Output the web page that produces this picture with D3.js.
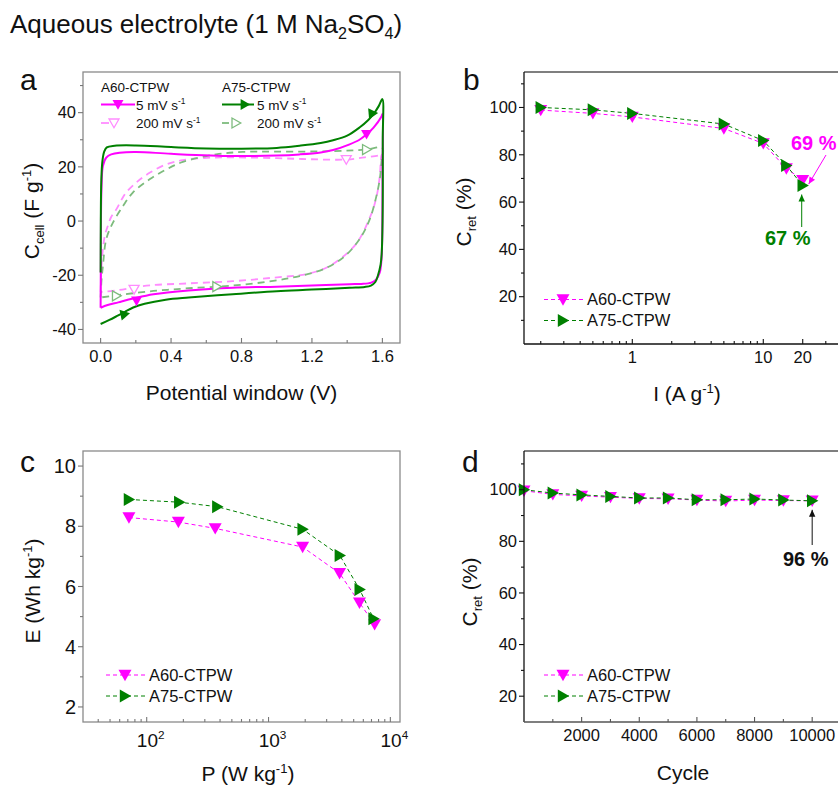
<!DOCTYPE html>
<html><head><meta charset="utf-8">
<script src="https://cdn.jsdelivr.net/npm/d3@7"></script>
<style>
body{margin:0;background:#fff;}
text{font-family:Arial,"Liberation Sans",sans-serif;fill:#111;}
</style>
</head><body>
<svg id="chart" width="838" height="787"></svg>
<script>
// ---------------- DATA ----------------
// Panel a: cyclic voltammograms [V, C (F/g)]
const cvA60_5 = [[0,-32],[0.001,-19],[0.002,0],[0.005,12],[0.013,20.3],[0.032,23.4],[0.06,24.6],[0.19,25.5],[0.4,24.8],[0.75,24],[1.0,24.2],[1.13,24.6],[1.25,25.3],[1.32,26.2],[1.414,28.3],[1.47,30],[1.51,32],[1.55,34.5],[1.594,38.5],[1.6,39.5],[1.601,20],[1.6,0],[1.595,-14],[1.585,-19],[1.565,-21.5],[1.537,-22.7],[1.48,-23.2],[1.414,-23.3],[1.2,-23.8],[1.0,-24.2],[0.75,-24.6],[0.5,-25.6],[0.3,-27],[0.185,-28.6],[0.1,-30],[0.04,-31],[0,-32]];
const cvA75_5 = [[0,-19],[0.001,0],[0.004,15],[0.01,22],[0.02,25.5],[0.035,27.2],[0.08,27.8],[0.2,27.9],[0.4,27.3],[0.6,26.8],[0.8,26.7],[1.0,27],[1.13,27.8],[1.25,28.8],[1.32,29.8],[1.4,31.5],[1.47,34.5],[1.52,37.3],[1.55,39.5],[1.58,42.5],[1.6,45],[1.602,30],[1.601,0],[1.596,-12],[1.59,-16],[1.575,-20],[1.56,-22.5],[1.535,-23.8],[1.5,-24.3],[1.414,-24.6],[1.2,-25.3],[1.0,-25.9],[0.75,-27],[0.5,-28.2],[0.37,-29],[0.25,-30.5],[0.185,-31.9],[0.138,-33.5],[0.1,-34.8],[0.05,-36.5],[0,-38]];
const cvA60_200 = [[0,-26.2],[0.004,-18],[0.013,-10.4],[0.025,-5],[0.041,-1.8],[0.06,1.5],[0.089,4.3],[0.12,8],[0.145,10.5],[0.202,14.2],[0.278,17.8],[0.372,20.9],[0.467,22.5],[0.6,23.3],[0.75,23.5],[1.0,23.2],[1.2,22.8],[1.395,22.7],[1.5,23.5],[1.585,24.3],[1.6,25],[1.594,24],[1.585,16.6],[1.57,10],[1.547,4.3],[1.52,0],[1.49,-4.3],[1.45,-8.5],[1.414,-11],[1.36,-14],[1.3,-16.6],[1.24,-18.3],[1.169,-19.6],[0.98,-20.9],[0.75,-22.2],[0.5,-23],[0.28,-23.7],[0.19,-24.5],[0.1,-25.5],[0,-26.2]];
const cvA75_200 = [[0,-28.2],[0.005,-22],[0.013,-16.6],[0.032,-6.7],[0.07,-0.6],[0.127,5.5],[0.183,10.5],[0.278,15.4],[0.372,19],[0.467,21.8],[0.656,24.6],[0.807,25.5],[1.0,25.6],[1.32,25.8],[1.51,26.4],[1.6,27],[1.595,22],[1.585,15.4],[1.566,9.2],[1.528,0.6],[1.47,-6.7],[1.377,-13.5],[1.263,-17.8],[1.13,-20.3],[0.98,-22.1],[0.75,-23.8],[0.5,-24.8],[0.3,-25.8],[0.09,-27.4],[0,-28.2]];
// marker locations on the CV curves [V, C]
const mkA60_5 = [[1.51,32],[0.204,-29.5]];
const mkA75_5 = [[1.537,39.3],[0.138,-34.4]];
const mkA60_200 = [[1.395,22.7],[0.19,-25.2]];
const mkA75_200 = [[1.51,26.4],[0.66,-24.2],[0.09,-27.6]];
const cvXTicks = [0,0.4,0.8,1.2,1.6];
const cvYTicks = [-40,-20,0,20,40];

// Panel b: rate capability
const currents = [0.2,0.5,1,5,10,15,20];
const retA60 = [98.9,97.5,96,91.1,84.8,74.2,69.3];
const retA75 = [100,99,97.5,93,86,75.5,67];
const rateXLabels = [1,10,20];
const retYTicks = [20,40,60,80,100];

// Panel c: Ragone plot
const powA60 = [71.5,182,365,1905,3830,5580,7430];
const engA60 = [8.29,8.14,7.93,7.31,6.44,5.46,4.74];
const powA75 = [71.5,185,380,1905,3850,5600,7280];
const engA75 = [8.89,8.80,8.65,7.90,7.03,5.90,4.93];
const ragXExp = [2,3,4];
const ragYTicks = [2,4,6,8,10];

// Panel d: cycling stability
const cycles = [0,1000,2000,3000,4000,5000,6000,7000,8000,9000,10000];
const cycA60 = [99.6,98.2,97.6,97.1,96.6,96.5,96.0,95.6,96.0,95.8,95.7];
const cycA75 = [100,98.7,98.0,97.4,96.8,96.8,96.1,96.1,96.4,96.0,95.7];
const cycXTicks = [2000,4000,6000,8000,10000];

const MAG = "#ff00ff", GRN = "#008000", PINK = "#ff8cff", LGRN = "#7dbb7d";

// ---------------- HELPERS ----------------
const svg = d3.select("#chart");
svg.append("rect").attr("width",838).attr("height",787).attr("fill","#fff");

function triPath(type, s){
  if(type==="down") return `M${-s},${-s*0.8}L${s},${-s*0.8}L0,${s*0.95}Z`;
  return `M${-s*0.8},${-s}L${-s*0.8},${s}L${s*0.95},0Z`;
}
function marker(g, x, y, type, s, fill, stroke, rot){
  g.append("path").attr("d", triPath(type, s))
   .attr("transform", `translate(${x},${y})` + (rot?` rotate(${rot})`:""))
   .attr("fill", fill).attr("stroke", stroke||"none").attr("stroke-width", stroke?1.3:0);
}
function frame(g, x0, y0, x1, y1, col){
  g.append("rect").attr("x",x0).attr("y",y0).attr("width",x1-x0).attr("height",y1-y0)
   .attr("fill","none").attr("stroke",col).attr("stroke-width",1.3);
}
function yAxis(g, y, x0, major, minor, col, fs){
  major.forEach(v=>{
    g.append("line").attr("x1",x0-5).attr("x2",x0).attr("y1",y(v)).attr("y2",y(v)).attr("stroke",col).attr("stroke-width",1.1);
    g.append("text").attr("x",x0-7).attr("y",y(v)).attr("dy","0.35em").attr("text-anchor","end")
     .style("font-size",fs+"px").text(v);
  });
  minor.forEach(v=>{
    g.append("line").attr("x1",x0-3).attr("x2",x0).attr("y1",y(v)).attr("y2",y(v)).attr("stroke",col).attr("stroke-width",1.1);
  });
}
function xTicks(g, x, y0, major, minor, col){
  major.forEach(v=>g.append("line").attr("x1",x(v)).attr("x2",x(v)).attr("y1",y0).attr("y2",y0-5).attr("stroke",col).attr("stroke-width",1.1));
  minor.forEach(v=>g.append("line").attr("x1",x(v)).attr("x2",x(v)).attr("y1",y0).attr("y2",y0-3).attr("stroke",col).attr("stroke-width",1.1));
}
function supText(g, x, y, parts, fs, anchor, rotate){
  const t = g.append("text").attr("x",x).attr("y",y).attr("text-anchor",anchor||"middle").style("font-size",fs+"px");
  if(rotate) t.attr("transform",`rotate(-90,${x},${y})`);
  parts.forEach(p=>{
    const ts = t.append("tspan").text(p.t);
    if(p.sup){ ts.attr("dy",-fs*0.4).style("font-size",(fs*0.62)+"px"); }
    else if(p.sub){ ts.attr("dy",fs*0.22).style("font-size",(fs*0.62)+"px"); }
    else if(p.back){ ts.attr("dy",p.back); }
  });
  return t;
}
function panelLetter(x,y,l){
  svg.append("text").attr("x",x).attr("y",y).style("font-size","30px").text(l);
}
function legend2(g, x0, y0, dy, fs){
  [[MAG,"down","A60-CTPW"],[GRN,"right","A75-CTPW"]].forEach((d,i)=>{
    const yy = y0 + i*dy;
    g.append("line").attr("x1",x0).attr("x2",x0+39).attr("y1",yy).attr("y2",yy)
     .attr("stroke",d[0]).attr("stroke-width",1).attr("stroke-dasharray","4,3");
    marker(g, x0+19, yy, d[1], 6.5, d[0]);
    g.append("text").attr("x",x0+43).attr("y",yy).attr("dy","0.36em").style("font-size",fs+"px").text(d[2]);
  });
}
function arrow(g, x1, y1, x2, y2, col){
  const ang = Math.atan2(y2-y1, x2-x1);
  g.append("line").attr("x1",x1).attr("y1",y1).attr("x2",x2).attr("y2",y2).attr("stroke",col).attr("stroke-width",1);
  const L=7, W=3.2;
  const p = [[x2,y2],
    [x2-L*Math.cos(ang)+W*Math.sin(ang), y2-L*Math.sin(ang)-W*Math.cos(ang)],
    [x2-L*Math.cos(ang)-W*Math.sin(ang), y2-L*Math.sin(ang)+W*Math.cos(ang)]];
  g.append("path").attr("d","M"+p.map(q=>q.join(",")).join("L")+"Z").attr("fill",col);
}

// ---------------- TITLE ----------------
supText(svg, 10, 33, [{t:"Aqueous electrolyte (1 M Na"},{t:"2",sub:true},{t:"SO",back:-26*0.22},{t:"4",sub:true},{t:")",back:-26*0.22}], 26, "start");

// ---------------- PANEL A ----------------
{
  const L=83,R=400,T=72,B=343;
  const x = d3.scaleLinear().domain([-0.1,1.7]).range([L,R]);
  const y = d3.scaleLinear().domain([-45,55]).range([B,T]);
  const g = svg.append("g");
  const line = d3.line().x(d=>x(d[0])).y(d=>y(d[1])).curve(d3.curveCatmullRom.alpha(0.5));
  g.append("path").attr("d",line(cvA60_200)).attr("fill","none").attr("stroke",PINK).attr("stroke-width",1.8).attr("stroke-dasharray","7,5");
  g.append("path").attr("d",line(cvA75_200)).attr("fill","none").attr("stroke",LGRN).attr("stroke-width",1.8).attr("stroke-dasharray","7,5");
  g.append("path").attr("d",line(cvA60_5)).attr("fill","none").attr("stroke",MAG).attr("stroke-width",2);
  g.append("path").attr("d",line(cvA75_5)).attr("fill","none").attr("stroke",GRN).attr("stroke-width",2);
  mkA60_200.forEach(d=>marker(g,x(d[0]),y(d[1]),"down",5,"#fff",PINK));
  mkA75_200.forEach(d=>marker(g,x(d[0]),y(d[1]),"right",5,"#fff",LGRN));
  mkA60_5.forEach(d=>marker(g,x(d[0]),y(d[1]),"down",5.5,MAG));
  marker(g,x(mkA75_5[0][0]),y(mkA75_5[0][1]),"right",5.5,GRN,null,115);
  marker(g,x(mkA75_5[1][0]),y(mkA75_5[1][1]),"right",5.5,GRN,null,-12);

  frame(g,L,T,R,B,"#8a8a8a");
  yAxis(g,y,L,cvYTicks,[-30,-10,10,30,50],"#777",16.5);
  xTicks(g,x,B,cvXTicks,[0.2,0.6,1.0,1.4],"#777");
  cvXTicks.forEach(v=>g.append("text").attr("x",x(v)).attr("y",B+19).attr("text-anchor","middle").style("font-size","16.5px").text(d3.format(".1f")(v)));
  g.append("text").attr("x",(L+R)/2).attr("y",400).attr("text-anchor","middle").style("font-size","21px").text("Potential window (V)");
  supText(g, 39, 211, [{t:"C"},{t:"cell",sub:true},{t:" (F g",back:-21*0.22},{t:"-1",sup:true},{t:")",back:21*0.4}], 21, "middle", true);

  // legend
  const fs=13.5;
  g.append("text").attr("x",101).attr("y",87).attr("dy","0.35em").style("font-size",fs+"px").text("A60-CTPW");
  g.append("text").attr("x",222).attr("y",87).attr("dy","0.35em").style("font-size",fs+"px").text("A75-CTPW");
  g.append("line").attr("x1",101).attr("x2",135).attr("y1",104.5).attr("y2",104.5).attr("stroke",MAG).attr("stroke-width",2);
  marker(g,118,104.5,"down",5.5,MAG);
  supText(g,136,109.5,[{t:"5 mV s"},{t:"-1",sup:true}],fs,"start");
  g.append("line").attr("x1",101).attr("x2",109).attr("y1",123).attr("y2",123).attr("stroke",PINK).attr("stroke-width",1.8);
  marker(g,114,123,"down",5,"#fff",PINK);
  supText(g,136,128,[{t:"200 mV s"},{t:"-1",sup:true}],fs,"start");
  g.append("line").attr("x1",222).attr("x2",254).attr("y1",104.5).attr("y2",104.5).attr("stroke",GRN).attr("stroke-width",2);
  marker(g,245,104.5,"right",5.5,GRN);
  supText(g,257,109.5,[{t:"5 mV s"},{t:"-1",sup:true}],fs,"start");
  g.append("line").attr("x1",222).attr("x2",229).attr("y1",123).attr("y2",123).attr("stroke",LGRN).attr("stroke-width",1.8);
  marker(g,236,123,"right",5,"#fff",LGRN);
  supText(g,257,128,[{t:"200 mV s"},{t:"-1",sup:true}],fs,"start");
  panelLetter(20,90,"a");
}

// ---------------- PANEL B ----------------
{
  const L=524,R=841,T=72,B=344;
  const x = d3.scaleLog().domain([0.149,39.2]).range([L,R]);
  const y = d3.scaleLinear().domain([0,115]).range([B,T]);
  const g = svg.append("g");
  const line = d3.line().x(d=>x(d[0])).y(d=>y(d[1]));
  const dA60 = currents.map((c,i)=>[c,retA60[i]]);
  const dA75 = currents.map((c,i)=>[c,retA75[i]]);
  g.append("path").attr("d",line(dA60)).attr("fill","none").attr("stroke",MAG).attr("stroke-width",1).attr("stroke-dasharray","4,3");
  g.append("path").attr("d",line(dA75)).attr("fill","none").attr("stroke",GRN).attr("stroke-width",1).attr("stroke-dasharray","4,3");
  dA60.forEach(d=>marker(g,x(d[0]),y(d[1]),"down",6.5,MAG));
  dA75.forEach(d=>marker(g,x(d[0]),y(d[1]),"right",6.5,GRN));

  g.append("line").attr("x1",L).attr("x2",R).attr("y1",T).attr("y2",T).attr("stroke","#555").attr("stroke-width",1.3);
  g.append("line").attr("x1",L).attr("x2",L).attr("y1",T).attr("y2",B).attr("stroke","#111").attr("stroke-width",1.3);
  g.append("line").attr("x1",L).attr("x2",R).attr("y1",B).attr("y2",B).attr("stroke","#111").attr("stroke-width",1.3);
  yAxis(g,y,L,retYTicks,[10,30,50,70,90,110],"#111",16.5);
  const minors=[0.2,0.3,0.4,0.5,0.6,0.7,0.8,0.9,2,3,4,5,6,7,8,9,30];
  xTicks(g,x,B,[1,10,20],minors,"#111");
  rateXLabels.forEach(v=>g.append("text").attr("x",x(v)).attr("y",B+19).attr("text-anchor","middle").style("font-size","16.5px").text(v));
  supText(g, 687, 401, [{t:"I (A g"},{t:"-1",sup:true},{t:")",back:21*0.4}], 21, "middle");
  supText(g, 471, 212, [{t:"C"},{t:"ret",sub:true},{t:" (%)",back:-21*0.22}], 21, "middle", true);
  legend2(g, 544, 299.5, 21, 16.5);
  // annotations
  g.append("text").attr("x",791).attr("y",150).style("font-size","20px").style("font-weight","bold").style("fill",MAG).text("69 %");
  arrow(g, 826, 155, x(20)+6, y(retA60[6])+4, MAG);
  g.append("text").attr("x",765).attr("y",245).style("font-size","20px").style("font-weight","bold").style("fill",GRN).text("67 %");
  arrow(g, x(20)-1, 227, x(20)-1, y(retA75[6])+9, GRN);
  panelLetter(463,90,"b");
}

// ---------------- PANEL C ----------------
{
  const L=83,R=400,T=451,B=722;
  const x = d3.scaleLog().domain([30,12000]).range([L,R]);
  const y = d3.scaleLinear().domain([1.5,10.5]).range([B,T]);
  const g = svg.append("g");
  const line = d3.line().x(d=>x(d[0])).y(d=>y(d[1]));
  const dA60 = powA60.map((p,i)=>[p,engA60[i]]);
  const dA75 = powA75.map((p,i)=>[p,engA75[i]]);
  g.append("path").attr("d",line(dA60)).attr("fill","none").attr("stroke",MAG).attr("stroke-width",1).attr("stroke-dasharray","4,3");
  g.append("path").attr("d",line(dA75)).attr("fill","none").attr("stroke",GRN).attr("stroke-width",1).attr("stroke-dasharray","4,3");
  dA60.forEach(d=>marker(g,x(d[0]),y(d[1]),"down",6.5,MAG));
  dA75.forEach(d=>marker(g,x(d[0]),y(d[1]),"right",6.5,GRN));

  frame(g,L,T,R,B,"#8a8a8a");
  yAxis(g,y,L,ragYTicks,[3,5,7,9],"#777",20);
  const minors=[40,50,60,70,80,90,200,300,400,500,600,700,800,900,2000,3000,4000,5000,6000,7000,8000,9000];
  xTicks(g,x,B,ragXExp.map(e=>Math.pow(10,e)),minors,"#777");
  ragXExp.forEach(e=>supText(g,x(Math.pow(10,e))+4,B+25,[{t:"10"},{t:String(e),sup:true}],19,"middle"));
  supText(g, 248, 781, [{t:"P (W kg"},{t:"-1",sup:true},{t:")",back:21*0.4}], 21, "middle");
  supText(g, 40, 591, [{t:"E (Wh kg"},{t:"-1",sup:true},{t:")",back:21*0.4}], 21, "middle", true);
  legend2(g, 106, 675, 21, 16.5);
  panelLetter(20,472,"c");
}

// ---------------- PANEL D ----------------
{
  const L=524,R=841,T=451,B=722;
  const x = d3.scaleLinear().domain([0,11000]).range([L,R]);
  const y = d3.scaleLinear().domain([10,115]).range([B,T]);
  const g = svg.append("g");
  const line = d3.line().x(d=>x(d[0])).y(d=>y(d[1]));
  const dA60 = cycles.map((c,i)=>[c,cycA60[i]]);
  const dA75 = cycles.map((c,i)=>[c,cycA75[i]]);
  g.append("path").attr("d",line(dA60)).attr("fill","none").attr("stroke",MAG).attr("stroke-width",1).attr("stroke-dasharray","4,3");
  g.append("path").attr("d",line(dA75)).attr("fill","none").attr("stroke",GRN).attr("stroke-width",1).attr("stroke-dasharray","4,3");
  dA60.forEach(d=>marker(g,x(d[0]),y(d[1]),"down",6.5,MAG));
  dA75.forEach(d=>marker(g,x(d[0]),y(d[1]),"right",6.5,GRN));

  g.append("line").attr("x1",L).attr("x2",R).attr("y1",T).attr("y2",T).attr("stroke","#555").attr("stroke-width",1.3);
  g.append("line").attr("x1",L).attr("x2",L).attr("y1",T).attr("y2",B).attr("stroke","#111").attr("stroke-width",1.3);
  g.append("line").attr("x1",L).attr("x2",R).attr("y1",B).attr("y2",B).attr("stroke","#555").attr("stroke-width",1.3);
  yAxis(g,y,L,retYTicks,[30,50,70,90,110],"#111",16.5);
  xTicks(g,x,B,cycXTicks,[1000,3000,5000,7000,9000],"#555");
  cycXTicks.forEach(v=>g.append("text").attr("x",x(v)).attr("y",B+19).attr("text-anchor","middle").style("font-size","16.5px").text(v));
  g.append("text").attr("x",683).attr("y",780).attr("text-anchor","middle").style("font-size","21px").text("Cycle");
  supText(g, 477, 592, [{t:"C"},{t:"ret",sub:true},{t:" (%)",back:-21*0.22}], 21, "middle", true);
  legend2(g, 544, 675, 21, 16.5);
  g.append("text").attr("x",783).attr("y",566).style("font-size","20px").style("font-weight","bold").text("96 %");
  arrow(g, x(10000), 545, x(10000), y(cycA75[10])+9, "#111");
  panelLetter(462,472,"d");
}
</script>
</body></html>
